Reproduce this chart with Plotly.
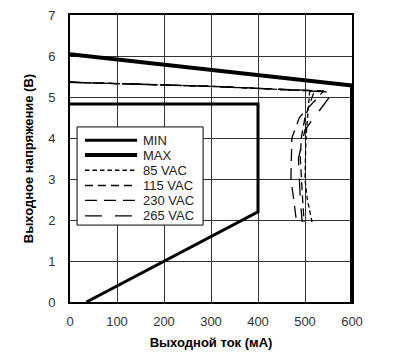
import plotly.graph_objects as go

# Data (mA, V)
min_x = [0, 400, 400, 35]
min_y = [4.83, 4.83, 2.2, 0]
max_x = [0, 600, 600]
max_y = [6.04, 5.28, 0]

vac85_x = [0, 300, 510, 506, 502, 500, 505, 515]
vac85_y = [5.36, 5.26, 5.15, 4.6, 4.0, 3.0, 2.5, 1.95]
vac115_x = [0, 300, 520, 500, 492, 490, 495, 498]
vac115_y = [5.36, 5.26, 5.15, 4.5, 4.0, 3.5, 2.5, 1.95]
vac230_x = [0, 300, 540, 488, 472, 470, 476, 482]
vac230_y = [5.36, 5.26, 5.15, 4.5, 4.0, 3.0, 2.5, 1.95]
vac265_x = [0, 300, 560, 520, 500, 486, 490, 494]
vac265_y = [5.36, 5.26, 5.12, 4.5, 4.2, 3.5, 2.5, 1.95]

x_ticks = [0, 100, 200, 300, 400, 500, 600]
y_ticks = [0, 1, 2, 3, 4, 5, 6, 7]

names = ["MIN", "MAX", "85 VAC", "115 VAC", "230 VAC", "265 VAC"]
widths = [3, 4, 1.3, 1.3, 1.3, 1.3]
dashes = ["solid", "solid", "4.5px,3px", "8px,5px", "12px,7px", "17px,13px"]
series = [(min_x, min_y), (max_x, max_y), (vac85_x, vac85_y),
          (vac115_x, vac115_y), (vac230_x, vac230_y), (vac265_x, vac265_y)]

fig = go.Figure()
for (xs, ys), n, w, d in zip(series, names, widths, dashes):
    fig.add_trace(go.Scatter(x=xs, y=ys, mode="lines", name=n, showlegend=False,
                             line=dict(color="black", width=w, dash=d)))

# Hand-built legend (compact, as in the reference)
fig.add_shape(type="rect", xref="paper", yref="paper", x0=0.025, x1=0.472, y0=0.268, y1=0.610,
              line=dict(color="black", width=1), fillcolor="white", layer="above")
row_y = [0.564, 0.512, 0.459, 0.406, 0.354, 0.300]
for n, w, d, yy in zip(names, widths, dashes, row_y):
    fig.add_shape(type="line", xref="paper", yref="paper", x0=0.053, x1=0.238, y0=yy, y1=yy,
                  line=dict(color="black", width=w, dash=d), layer="above")
    fig.add_annotation(xref="paper", yref="paper", x=0.252, y=yy, text=n, showarrow=False,
                       xanchor="left", yanchor="middle",
                       font=dict(size=13, color="#222"))

# page body has an 8px margin, so offset the plot margins accordingly
fig.update_layout(
    width=400, height=363,
    margin=dict(l=62, r=56, t=7, b=69, autoexpand=False),
    plot_bgcolor="white", paper_bgcolor="white",
    font=dict(family="Liberation Sans, Arial, sans-serif", size=13, color="#333"),
    showlegend=False,
)
fig.update_xaxes(range=[0, 600], tickvals=x_ticks, showgrid=True, gridcolor="#333",
                 gridwidth=1, showline=True, linecolor="black", linewidth=2, mirror=True,
                 zeroline=False, ticks="", ticklabelstandoff=6, automargin=False,
                 ticklabeloverflow="allow",
                 title=dict(text="<b>Выходной ток (мА)</b>", font=dict(size=13, color="black"), standoff=10))
fig.update_yaxes(range=[0, 7], tickvals=y_ticks, showgrid=True, gridcolor="#333",
                 gridwidth=1, showline=True, linecolor="black", linewidth=2, mirror=True,
                 zeroline=False, ticks="", ticklabelstandoff=10, automargin=False,
                 ticklabeloverflow="allow",
                 title=dict(text="<b>Выходное напряжение (В)</b>", font=dict(size=13, color="black"), standoff=12))

fig.write_html("out.html")
